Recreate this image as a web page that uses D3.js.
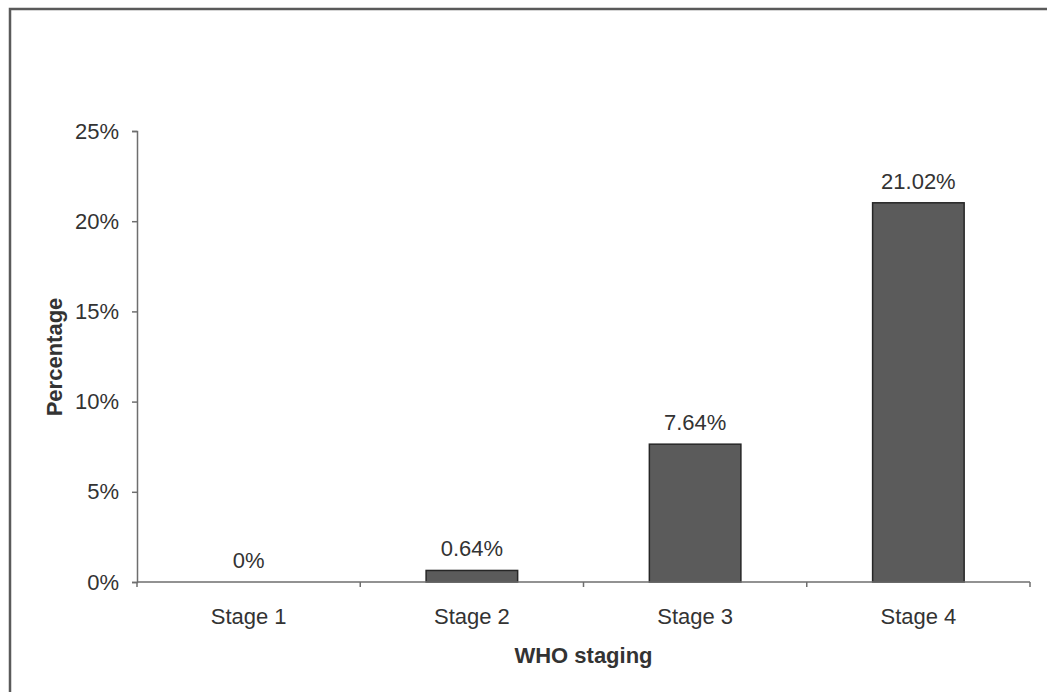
<!DOCTYPE html>
<html>
<head>
<meta charset="utf-8">
<script src="https://cdn.jsdelivr.net/npm/d3@7/dist/d3.min.js"></script>
<style>
  html, body { margin: 0; padding: 0; background: #fff; }
  svg { display: block; }
  text { font-family: Arial, "Liberation Sans", sans-serif; fill: #333; }
</style>
</head>
<body>
<div id="chart"></div>
<script>
// WHO clinical stage distribution
const stages = ["Stage 1", "Stage 2", "Stage 3", "Stage 4"];
const percentages = [0, 0.64, 7.64, 21.02];
const valueLabels = ["0%", "0.64%", "7.64%", "21.02%"];
const yTicks = [0, 5, 10, 15, 20, 25];

const width = 1047, height = 692;
const margin = { left: 137, right: 17, top: 131, bottom: 110 };
const fontSize = "22px";

const svg = d3.select("#chart").append("svg")
  .attr("width", width)
  .attr("height", height);

// outer frame (runs past the right and bottom edges)
svg.append("rect")
  .attr("x", 10).attr("y", 9)
  .attr("width", 1080).attr("height", 720)
  .attr("fill", "#fff")
  .attr("stroke", "#5a5a5a")
  .attr("stroke-width", 2.5);

const x = d3.scaleBand()
  .domain(stages)
  .range([margin.left, width - margin.right])
  .paddingInner(0.59)
  .paddingOuter(0.295);

const y = d3.scaleLinear()
  .domain([0, 25])
  .range([height - margin.bottom, margin.top]);

// bars
svg.append("g").selectAll("rect")
  .data(percentages)
  .join("rect")
  .attr("x", (d, i) => x(stages[i]))
  .attr("y", d => y(d))
  .attr("width", x.bandwidth())
  .attr("height", d => y(0) - y(d))
  .attr("fill", "#5b5b5b")
  .attr("stroke", d => d > 0 ? "#262626" : "none")
  .attr("stroke-width", 1.5);

// value labels
svg.append("g").selectAll("text")
  .data(percentages)
  .join("text")
  .attr("x", (d, i) => x(stages[i]) + x.bandwidth() / 2)
  .attr("y", d => y(d) - 14)
  .attr("text-anchor", "middle")
  .style("font-size", fontSize)
  .text((d, i) => valueLabels[i]);

// y axis
const yAxis = svg.append("g")
  .attr("transform", `translate(${margin.left},0)`)
  .call(d3.axisLeft(y).tickValues(yTicks).tickFormat(d => d + "%").tickSize(5).tickPadding(13));

// x axis: ticks at band boundaries, labels centered in bands
const step = x.step();
const boundaries = d3.range(stages.length + 1).map(i => margin.left + i * step);
const xAxis = svg.append("g")
  .attr("transform", `translate(0,${y(0)})`);
xAxis.append("line")
  .attr("x1", margin.left).attr("x2", boundaries[boundaries.length - 1])
  .attr("y1", 0).attr("y2", 0);
xAxis.selectAll("line.tick")
  .data(boundaries)
  .join("line")
  .attr("class", "tick")
  .attr("x1", d => d).attr("x2", d => d)
  .attr("y1", 0).attr("y2", 5);
xAxis.selectAll("text")
  .data(stages)
  .join("text")
  .attr("x", d => x(d) + x.bandwidth() / 2)
  .attr("y", 42)
  .attr("text-anchor", "middle")
  .style("font-size", fontSize)
  .text(d => d);
xAxis.selectAll("line").attr("stroke", "#6e6e6e").attr("stroke-width", 1.5);

yAxis.select(".domain").attr("stroke", "#6e6e6e").attr("stroke-width", 1.5);
yAxis.selectAll(".tick line").attr("stroke", "#6e6e6e").attr("stroke-width", 1.5);
yAxis.selectAll(".tick text")
  .style("font-size", fontSize)
  .style("font-family", "Arial, 'Liberation Sans', sans-serif")
  .attr("fill", "#333");

// axis titles
svg.append("text")
  .attr("x", (margin.left + boundaries[boundaries.length - 1]) / 2)
  .attr("y", 663)
  .attr("text-anchor", "middle")
  .style("font-size", fontSize)
  .style("font-weight", "bold")
  .text("WHO staging");

svg.append("text")
  .attr("transform", `translate(62,357) rotate(-90)`)
  .attr("text-anchor", "middle")
  .style("font-size", fontSize)
  .style("font-weight", "bold")
  .text("Percentage");
</script>
</body>
</html>
